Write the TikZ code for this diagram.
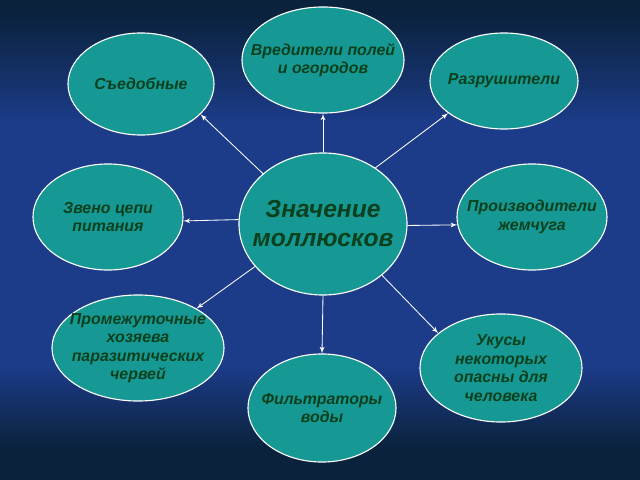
\documentclass[tikz,border=0pt]{standalone}
\usepackage{fontspec}
\setmainfont{Liberation Sans}
\usetikzlibrary{shapes.geometric, arrows}

\definecolor{sea}{RGB}{28,60,138}
\definecolor{deep}{RGB}{10,34,60}
\definecolor{shell}{RGB}{22,152,148}
\definecolor{ink}{RGB}{10,64,28}

\begin{document}
\begin{tikzpicture}[x=0.025cm,y=-0.025cm]

\tikzset{bubble/.style = {shape=ellipse,draw=white,fill=shell,line width=0.8pt,inner sep=0pt}}
\tikzset{word/.style = {font=\bfseries\itshape\fontsize{11.3}{13.1}\selectfont,text=ink,align=center}}
\tikzset{edge/.style = {->,> = latex',draw=white,line width=0.6pt}}

% background
\fill[deep] (0,0) rectangle (640,480);
\shade[top color=deep,bottom color=sea] (0,12) rectangle (640,125);
\fill[sea] (0,125) rectangle (640,365);
\shade[top color=sea,bottom color=deep] (0,365) rectangle (640,448);
\useasboundingbox (0,0) rectangle (640,480);

% vertices
\node[bubble, minimum width=4.2cm, minimum height=3.55cm,
  label={[word, font=\bfseries\itshape\fontsize{17.5}{20.6}\selectfont]center:{Значение\\моллюсков}}] (c) at (323,224) {};
\node[bubble, minimum width=4.05cm, minimum height=2.65cm, label={[word]center:{Вредители полей\\и огородов}}] (v) at (323,60) {};
\node[bubble, minimum width=3.65cm, minimum height=2.55cm, label={[word]center:Съедобные}] (s) at (141,84) {};
\node[bubble, minimum width=3.7cm, minimum height=2.4cm, label={[word]center:Разрушители}] (r) at (504,81) {};
\node[bubble, minimum width=3.75cm, minimum height=2.65cm, label={[word]center:{Звено цепи\\питания}}] (z) at (108,217) {};
\node[bubble, minimum width=3.75cm, minimum height=2.65cm, label={[word]center:{Производители\\жемчуга}}] (p) at (532,217) {};
\node[bubble, minimum width=4.3cm, minimum height=2.65cm,
  label={[word]center:{Промежуточные\\хозяева\\паразитических\\червей}}] (m) at (138,348) {};
\node[bubble, minimum width=3.7cm, minimum height=2.7cm, label={[word]center:{Фильтраторы\\воды}}] (f) at (322,408) {};
\node[bubble, minimum width=4.05cm, minimum height=2.7cm,
  label={[word]center:{Укусы\\некоторых\\опасны для\\человека}}] (u) at (501,368) {};

%edges
\draw[edge] (c.north) -- (v.south);
\draw[edge] (c.140) -- (s.333);
\draw[edge] (c.47) -- (r.210);
\draw[edge] (c.177) -- (z.-3);
\draw[edge] (c.-1) -- (p.186);
\draw[edge] (c.212) -- (m.34);
\draw[edge] (c.south) -- (f.north);
\draw[edge] (c.319) -- (u.151);

\end{tikzpicture}
\end{document}
